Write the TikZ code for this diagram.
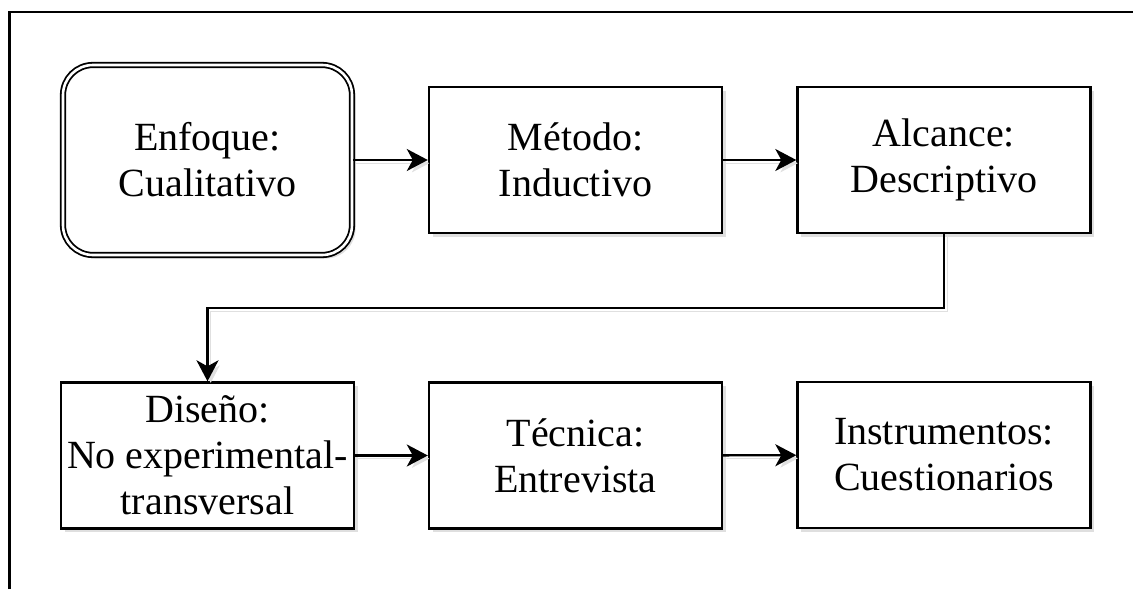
\documentclass[tikz,border=0pt]{standalone}
\usepackage{fontspec}
\setmainfont{Liberation Serif}
\usetikzlibrary{arrows.meta,shadows}
\begin{document}
\begin{tikzpicture}[x=0.5pt,y=-0.5pt,
    stepbox/.style={draw,line width=1.2pt,fill=white,inner sep=0pt,
      minimum width=146.5pt,minimum height=73pt,align=center,
      font=\fontsize{20}{23}\selectfont,
      drop shadow={shadow xshift=1.8pt,shadow yshift=-1.8pt,opacity=0.25}},
    startbox/.style={stepbox,rounded corners=15pt,double,line width=0.9pt,
      double distance=1.3pt,minimum width=144.5pt,minimum height=95pt},
    flow/.style={line width=1.2pt,-{Stealth[length=10.5pt,width=11pt,inset=3pt]},
      preaction={draw=black!12,transform canvas={xshift=1.6pt,yshift=-1.6pt}}}]
  \useasboundingbox (0,0) rectangle (1133,589);
  % frame
  \draw[line width=1.2pt] (9.5,589) -- (9.5,12) -- (1133,12);
  % first row
  \node[startbox] (enfoque) at (207.5,160) {Enfoque:\\Cualitativo};
  \node[stepbox] (metodo) at (575.5,160) {Método:\\Inductivo};
  \node[stepbox] (alcance) at (944,160) {Alcance:\\Descriptivo};
  % second row
  \node[stepbox] (diseno) at (207.5,455.5) {Diseño:\\No experimental-\\transversal};
  \node[stepbox] (tecnica) at (575.5,455.5) {Técnica:\\Entrevista};
  \node[stepbox] (instrum) at (944,455) {Instrumentos:\\Cuestionarios};
  % connectors
  \draw[flow] (enfoque) -- (metodo);
  \draw[flow] (metodo) -- (alcance);
  \draw[flow] (alcance.south) -- ++(0,74) -| (diseno.north);
  \draw[flow] (diseno) -- (tecnica);
  \draw[flow] (tecnica) -- (instrum);
\end{tikzpicture}
\end{document}
